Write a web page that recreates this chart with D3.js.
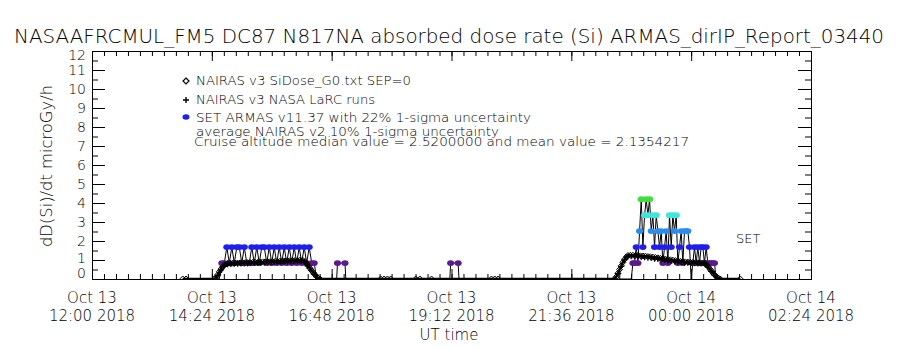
<!DOCTYPE html>
<html><head><meta charset="utf-8">
<script src="https://cdn.jsdelivr.net/npm/d3@7"></script>
<style>
html,body{margin:0;padding:0;background:#fff;}
svg{display:block;font-family:"DejaVu Sans",sans-serif;font-weight:200;}
</style></head><body>
<svg id="chart" width="900" height="350"></svg>
<script>
// ---- text ----
const titleText = "NASAAFRCMUL_FM5 DC87 N817NA absorbed dose rate (Si) ARMAS_dirIP_Report_03440";
const yTitle = "dD(Si)/dt microGy/h";
const xTitle = "UT time";
const legendLabels = [
  "NAIRAS v3 SiDose_G0.txt SEP=0",
  "NAIRAS v3 NASA LaRC runs",
  "SET ARMAS v11.37 with 22% 1-sigma uncertainty"
];
const noteLines = [
  "average NAIRAS v2 10% 1-sigma uncertainty",
  "Cruise altitude median value = 2.5200000 and mean value = 2.1354217"
];
const instrumentLabel = "SET";

// ---- axes ----
const yTickValues = [0,1,2,3,4,5,6,7,8,9,10,11,12];
const xTickTimes = ["13 12:00","13 14:24","13 16:48","13 19:12","13 21:36","14 00:00","14 02:24"];
const xTickDates = ["Oct 13","Oct 13","Oct 13","Oct 13","Oct 13","Oct 14","Oct 14"];
const xTickClock = ["12:00 2018","14:24 2018","16:48 2018","19:12 2018","21:36 2018","00:00 2018","02:24 2018"];

// ---- NAIRAS v3 SiDose_G0 model (diamonds, joined) ----
const nairasTime = [
  "13 13:49","13 13:53","13 14:27","13 14:29","13 14:31","13 14:33","13 14:35","13 14:37","13 14:39","13 14:41","13 14:43",
  "13 14:46","13 14:49","13 14:52","13 14:55","13 14:58","13 15:01","13 15:04","13 15:07","13 15:10","13 15:13",
  "13 15:16","13 15:19","13 15:22","13 15:25","13 15:28","13 15:31","13 15:34","13 15:37","13 15:40","13 15:43",
  "13 15:46","13 15:49","13 15:52","13 15:55","13 15:58","13 16:01","13 16:04","13 16:07","13 16:10","13 16:13",
  "13 16:16","13 16:18","13 16:20","13 16:22","13 16:24","13 16:26","13 16:28","13 16:30","13 16:32","13 16:34",
  "13 17:47","13 17:51","13 17:55","13 17:59","13 18:29","13 18:34","13 18:48","13 20:00","13 20:04","13 20:08",
  "13 22:28","13 22:30","13 22:32","13 22:34","13 22:36","13 22:38","13 22:40","13 22:42","13 22:44",
  "13 22:47","13 22:50","13 22:53","13 22:56","13 22:59","13 23:02","13 23:05","13 23:08","13 23:11","13 23:14",
  "13 23:17","13 23:20","13 23:23","13 23:26","13 23:29","13 23:32","13 23:35","13 23:38","13 23:41","13 23:44",
  "13 23:47","13 23:50","13 23:53","13 23:56","13 23:59","14 00:02","14 00:05","14 00:08","14 00:11","14 00:14",
  "14 00:17","14 00:19","14 00:21","14 00:23","14 00:25","14 00:27","14 00:29","14 00:31","14 00:33","14 00:35",
  "14 00:59"
];
const nairasDose = [
  0,0,0,0.08,0.22,0.38,0.52,0.64,0.73,0.79,0.82,
  0.83,0.83,0.84,0.84,0.85,0.85,0.86,0.86,0.87,0.87,
  0.88,0.88,0.89,0.90,0.90,0.91,0.91,0.92,0.93,0.93,
  0.94,0.95,0.95,0.96,0.97,0.97,0.98,0.98,0.99,0.99,
  0.92,0.80,0.68,0.56,0.44,0.33,0.22,0.12,0.05,0,
  0,0,0,0,0,0,0,0,0,0,
  0,0.12,0.30,0.50,0.70,0.88,1.04,1.16,1.24,
  1.25,1.25,1.24,1.23,1.22,1.21,1.20,1.18,1.17,1.15,
  1.13,1.11,1.09,1.07,1.05,1.03,1.01,0.99,0.97,0.95,
  0.93,0.91,0.90,0.89,0.88,0.87,0.86,0.85,0.85,0.84,
  0.84,0.74,0.62,0.50,0.39,0.28,0.18,0.10,0.04,0,
  0
];

// ---- NAIRAS v3 NASA LaRC runs (plus signs) ----
const larcTime = [
  "13 14:31","13 14:35","13 14:39","13 14:43","13 14:47","13 14:51","13 14:55","13 14:59","13 15:03","13 15:07",
  "13 15:11","13 15:15","13 15:19","13 15:23","13 15:27","13 15:31","13 15:35","13 15:39","13 15:43","13 15:47",
  "13 15:51","13 15:55","13 15:59","13 16:03","13 16:07","13 16:11","13 16:15","13 16:19","13 16:23","13 16:27",
  "13 16:31",
  "13 22:32","13 22:36","13 22:40","13 22:44","13 22:48","13 22:52","13 22:56","13 23:00","13 23:04","13 23:08",
  "13 23:12","13 23:16","13 23:20","13 23:24","13 23:28","13 23:32","13 23:36","13 23:40","13 23:44","13 23:48",
  "13 23:52","13 23:56","14 00:00","14 00:04","14 00:08","14 00:12","14 00:16","14 00:20","14 00:24","14 00:28",
  "14 00:32"
];
const larcDose = [
  0.18,0.48,0.70,0.78,0.79,0.80,0.80,0.81,0.82,0.82,
  0.83,0.84,0.84,0.85,0.86,0.87,0.87,0.88,0.89,0.90,
  0.91,0.92,0.92,0.93,0.94,0.95,0.90,0.70,0.46,0.24,
  0.08,
  0.28,0.66,1.00,1.19,1.20,1.19,1.18,1.16,1.14,1.12,
  1.10,1.07,1.05,1.02,1.00,0.97,0.95,0.92,0.90,0.88,
  0.86,0.85,0.84,0.83,0.82,0.81,0.80,0.62,0.40,0.20,
  0.05
];

// ---- SET ARMAS v11.37 measurements ----
const armasTime = [
  "13 13:49","13 14:33",
  "13 14:36","13 14:39","13 14:42","13 14:45","13 14:48","13 14:51","13 14:54","13 14:57","13 15:00","13 15:03",
  "13 15:06","13 15:09","13 15:12","13 15:15","13 15:18","13 15:21","13 15:24","13 15:27","13 15:30","13 15:33",
  "13 15:36","13 15:39","13 15:42","13 15:45","13 15:48","13 15:51","13 15:54","13 15:57","13 16:00","13 16:03",
  "13 16:06","13 16:09","13 16:12","13 16:15","13 16:18","13 16:21","13 16:24","13 16:27","13 16:30",
  "13 16:54","13 16:55","13 17:04","13 17:05",
  "13 19:10","13 19:11","13 19:20","13 19:21",
  "13 22:48",
  "13 22:50","13 22:52","13 22:54","13 22:56","13 22:58","13 23:00","13 23:02","13 23:04","13 23:06","13 23:08",
  "13 23:10","13 23:12","13 23:14","13 23:16","13 23:18","13 23:20","13 23:22","13 23:24","13 23:26","13 23:28",
  "13 23:30","13 23:32","13 23:34","13 23:36","13 23:38","13 23:40","13 23:42","13 23:44","13 23:46","13 23:48",
  "13 23:50","13 23:52","13 23:54","13 23:56","13 23:58","14 00:00","14 00:02","14 00:04","14 00:06","14 00:08",
  "14 00:10","14 00:12","14 00:14","14 00:16","14 00:18","14 00:20","14 00:22","14 00:24","14 00:26","14 00:28",
  "14 00:30","14 00:59"
];
const armasDose = [
  0,0,
  0.84,0.84,1.68,0.84,1.68,0.84,1.68,1.68,0.84,1.68,
  0.84,0.84,1.68,0.84,1.68,0.84,1.68,1.68,0.84,1.68,
  0.84,1.68,0.84,1.68,0.84,1.68,0.84,1.68,0.84,1.68,
  0.84,1.68,0.84,1.68,0.84,1.68,0.84,0.84,0,
  0,0.84,0.84,0,
  0,0.84,0.84,0,
  0,
  0.84,0.84,1.68,0.84,2.52,4.20,1.68,3.36,4.20,3.36,
  4.20,2.52,3.36,1.68,3.36,2.52,1.68,2.52,0.84,1.68,
  2.52,0.84,3.36,1.68,3.36,2.52,3.36,0.84,1.68,2.52,
  0.84,2.52,2.52,2.52,1.68,0,0.84,1.68,0.84,1.68,
  0.84,1.68,1.68,0.84,1.68,0.84,0.84,0.84,0.84,0.84,
  0,0
];
const armasLevels = [0.84,1.68,2.52,3.36,4.20];
const armasColors = ["#5a1a8c","#1e1ef0","#2a8cf0","#3ce6dc","#3ce03c"];

// ---- drawing ----
const svg = d3.select("#chart");
const parseT = s => d3.utcParse("%Y-%m-%d %H:%M")("2018-10-" + s);

const x = d3.scaleUtc().domain([parseT("13 12:00"), parseT("14 02:24")]).range([92, 811]);
const y = d3.scaleLinear().domain([0, 12]).range([279, 51]);
const armasColor = d3.scaleOrdinal(armasLevels, armasColors);

const model = nairasTime.map((t, i) => ({t: parseT(t), v: nairasDose[i]}));
const larc = larcTime.map((t, i) => ({t: parseT(t), v: larcDose[i]}));
const armas = armasTime.map((t, i) => ({t: parseT(t), v: armasDose[i]}));

const [x0, x1] = x.range();
const [yb, yt] = y.range();

// Title
svg.append("text").attr("x", 449).attr("y", 43).attr("text-anchor", "middle")
  .attr("font-size", 20).attr("textLength", 870).attr("lengthAdjust", "spacingAndGlyphs")
  .text(titleText);

// Axis ticks (inward on all four sides)
const tStart = x.domain()[0].getTime();
const xMajor = xTickTimes.map(parseT);
const xMinor = d3.range(0, 61).map(i => new Date(tStart + i * 14.4 * 60000));
const yMinor = d3.range(0.5, 12, 1);
const strip = g => g.select(".domain").remove();
const tickStyle = g => g.selectAll("line").attr("stroke", "#000").attr("stroke-width", 1);

svg.append("g").attr("transform", `translate(0,${yb})`)
  .call(d3.axisBottom(x).tickValues(xMinor).tickSize(-5).tickFormat("")).call(strip).call(tickStyle);
svg.append("g").attr("transform", `translate(0,${yb})`)
  .call(d3.axisBottom(x).tickValues(xMajor).tickSize(-10).tickFormat("")).call(strip).call(tickStyle);
svg.append("g").attr("transform", `translate(0,${yt})`)
  .call(d3.axisTop(x).tickValues(xMinor).tickSize(-5).tickFormat("")).call(strip).call(tickStyle);
svg.append("g").attr("transform", `translate(0,${yt})`)
  .call(d3.axisTop(x).tickValues(xMajor).tickSize(-10).tickFormat("")).call(strip).call(tickStyle);
svg.append("g").attr("transform", `translate(${x0},0)`)
  .call(d3.axisLeft(y).tickValues(yTickValues).tickSize(-13).tickFormat("")).call(strip).call(tickStyle);
svg.append("g").attr("transform", `translate(${x0},0)`)
  .call(d3.axisLeft(y).tickValues(yMinor).tickSize(-6).tickFormat("")).call(strip).call(tickStyle);
svg.append("g").attr("transform", `translate(${x1},0)`)
  .call(d3.axisRight(y).tickValues(yTickValues).tickSize(-13).tickFormat("")).call(strip).call(tickStyle);
svg.append("g").attr("transform", `translate(${x1},0)`)
  .call(d3.axisRight(y).tickValues(yMinor).tickSize(-6).tickFormat("")).call(strip).call(tickStyle);

// Frame
svg.append("rect").attr("x", x0 + 0.5).attr("y", yt + 0.5)
  .attr("width", x1 - x0).attr("height", yb - yt)
  .attr("fill", "none").attr("stroke", "#000").attr("stroke-width", 1);

// Y tick labels (end labels pulled inside the frame)
const yNudge = {12: 4, 1: -2, 0: -6};
svg.append("g").selectAll("text").data(yTickValues).join("text")
  .attr("x", 86).attr("text-anchor", "end").attr("font-size", 14)
  .attr("y", d => y(d) + 5 + (yNudge[d] || 0))
  .text(d => d);

// X tick labels, two lines
const xl = svg.append("g").selectAll("g").data(xMajor).join("g")
  .attr("transform", d => `translate(${x(d)},0)`);
xl.append("text").attr("y", 303).attr("text-anchor", "middle").attr("font-size", 15)
  .text((d, i) => xTickDates[i]);
xl.append("text").attr("y", 321).attr("text-anchor", "middle").attr("font-size", 15)
  .text((d, i) => xTickClock[i]);

// Axis titles
svg.append("text").attr("x", 449).attr("y", 340).attr("text-anchor", "middle")
  .attr("font-size", 15).text(xTitle);
svg.append("text").attr("transform", "translate(52,166) rotate(-90)").attr("text-anchor", "middle")
  .attr("font-size", 15).attr("textLength", 162).attr("lengthAdjust", "spacingAndGlyphs")
  .text(yTitle);

// Data layer clipped to the frame
svg.append("clipPath").attr("id", "plotClip")
  .append("rect").attr("x", x0).attr("y", yt).attr("width", x1 - x0).attr("height", yb - yt + 0.5);
const plot = svg.append("g").attr("clip-path", "url(#plotClip)");

// ARMAS time series: black connecting line, then level-coloured markers
plot.append("path").datum(armas)
  .attr("d", d3.line().x(d => x(d.t)).y(d => y(d.v)))
  .attr("fill", "none").attr("stroke", "#000").attr("stroke-width", 1);
plot.append("g").selectAll("ellipse").data(armas.filter(d => d.v > 0)).join("ellipse")
  .attr("cx", d => x(d.t)).attr("cy", d => y(d.v)).attr("rx", 3.6).attr("ry", 2.9)
  .attr("fill", d => armasColor(d.v));

// NAIRAS model: joined line with open diamonds
plot.append("path").datum(model)
  .attr("d", d3.line().x(d => x(d.t)).y(d => y(d.v)))
  .attr("fill", "none").attr("stroke", "#000").attr("stroke-width", 2.5);
const diamond = "M0,-3L3,0L0,3L-3,0Z";
plot.append("g").selectAll("path").data(model).join("path")
  .attr("transform", d => `translate(${x(d.t)},${y(d.v)})`)
  .attr("d", diamond).attr("fill", "none").attr("stroke", "#000").attr("stroke-width", 1);

// LaRC model: plus markers
const plus = "M-3,0H3M0,-3V3";
plot.append("g").selectAll("path").data(larc).join("path")
  .attr("transform", d => `translate(${x(d.t)},${y(d.v)})`)
  .attr("d", plus).attr("fill", "none").attr("stroke", "#000").attr("stroke-width", 1.2);

// Legend
const lg = svg.append("g");
const legendY = [85, 104, 122];
const legendLen = [215, 179, 335];
lg.append("path").attr("transform", `translate(186,${legendY[0] - 4})`)
  .attr("d", diamond).attr("fill", "none").attr("stroke", "#000").attr("stroke-width", 1.2);
lg.append("path").attr("transform", `translate(186,${legendY[1] - 4})`)
  .attr("d", plus).attr("stroke", "#000").attr("stroke-width", 1.4);
lg.append("ellipse").attr("cx", 186).attr("cy", legendY[2] - 5).attr("rx", 3.5).attr("ry", 2.8)
  .attr("fill", armasColors[1]);
lg.selectAll("text.leg").data(legendLabels).join("text").attr("class", "leg")
  .attr("x", 196).attr("y", (d, i) => legendY[i]).attr("font-size", 13)
  .attr("textLength", (d, i) => legendLen[i]).attr("lengthAdjust", "spacingAndGlyphs")
  .text(d => d);
lg.append("text").attr("x", 196).attr("y", 136).attr("font-size", 13)
  .attr("textLength", 303).attr("lengthAdjust", "spacingAndGlyphs").text(noteLines[0]);
lg.append("text").attr("x", 194).attr("y", 146).attr("font-size", 13)
  .attr("textLength", 495).attr("lengthAdjust", "spacingAndGlyphs").text(noteLines[1]);

// Instrument tag
svg.append("text").attr("x", 736).attr("y", 243).attr("font-size", 13).text(instrumentLabel);
</script>
</body></html>
